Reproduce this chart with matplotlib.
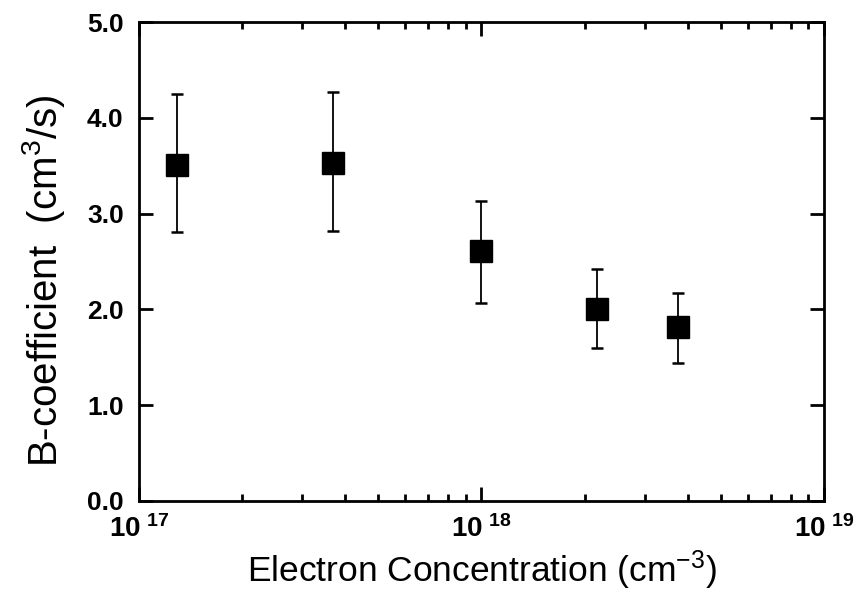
import matplotlib
matplotlib.use("Agg")
import matplotlib.pyplot as plt
import numpy as np
from matplotlib.ticker import LogLocator, FixedLocator, NullFormatter

plt.rcParams['font.family'] = ['Liberation Sans', 'DejaVu Sans']
plt.rcParams['mathtext.fontset'] = 'custom'
plt.rcParams['mathtext.rm'] = 'Liberation Sans'
plt.rcParams['mathtext.bf'] = 'Liberation Sans:bold'
plt.rcParams['mathtext.default'] = 'regular'

# donnees
concentration = [1.29e17, 3.68e17, 1.0e18, 2.17e18, 3.75e18]
b_coeff = [3.51, 3.53, 2.61, 2.00, 1.82]
err_haut = [4.25, 4.27, 3.13, 2.42, 2.17]
err_bas = [2.81, 2.82, 2.07, 1.60, 1.44]
y_ticks = [0.0, 1.0, 2.0, 3.0, 4.0, 5.0]
x_ticks = [1e17, 1e18, 1e19]
x_labels = [r'$\mathbf{10^{\ 17}}$', r'$\mathbf{10^{\ 18}}$', r'$\mathbf{10^{\ 19}}$']

b = np.array(b_coeff)
yerr = [b - np.array(err_bas), np.array(err_haut) - b]

fig = plt.figure(figsize=(8.6, 5.97), dpi=100)
ax = fig.add_axes([0.1616, 0.161, 0.7964, 0.802])

ax.errorbar(concentration, b_coeff, yerr=yerr, fmt='s', color='black',
            markersize=16, ecolor='black', elinewidth=1.3, capsize=4.5,
            capthick=1.8)

ax.set_xscale('log')
ax.set_xlim(1e17, 1e19)
ax.set_ylim(0, 5)

ax.xaxis.set_major_locator(FixedLocator(x_ticks))
ax.set_xticklabels(x_labels, fontsize=20)
ax.xaxis.set_minor_locator(LogLocator(base=10, subs=np.arange(2, 10)))
ax.xaxis.set_minor_formatter(NullFormatter())
ax.set_yticks(y_ticks)
ax.set_yticklabels(['%.1f' % v for v in y_ticks], fontweight='bold', fontsize=19)

for s in ax.spines.values():
    s.set_linewidth(2)

ax.tick_params(which='both', direction='in', top=True, right=True, width=2)
ax.tick_params(which='major', length=10)
ax.tick_params(which='minor', length=5)
ax.tick_params(axis='y', pad=11)
ax.tick_params(axis='x', pad=10)

ax.set_xlabel('Electron Concentration (cm$^{-3}$)', fontsize=25.5, labelpad=4)
ax.set_ylabel('B-coefficient  (cm$^{3}$/s)', fontsize=29)
ax.yaxis.set_label_coords(-0.105, 0.46)

fig.savefig('out.png', dpi=100)
